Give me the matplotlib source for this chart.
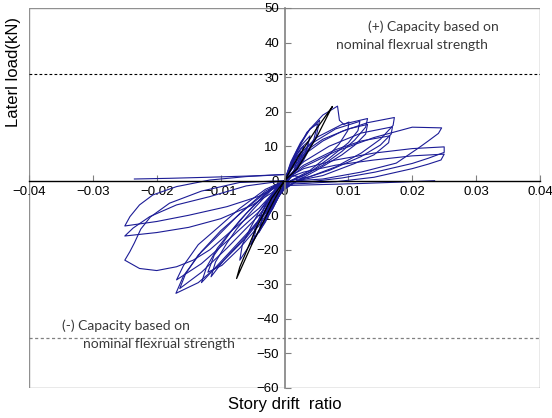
import numpy as np
import matplotlib.pyplot as plt
from matplotlib.patches import Rectangle

# Cyclic test results: (story drift ratio, lateral load kN) per cycle
c01 = [(0, 0), (0.0008, 3.5), (0.002, 6), (0.0014, 2.5), (0.0005, 0.3), (-0.0008, -4),
       (-0.002, -7.5), (-0.0015, -4), (-0.0005, -0.8), (0, 0)]
c02 = [(0, 0), (0.001, 4.5), (0.002, 7.8), (0.003, 10), (0.0025, 6), (0.0015, 2.5), (0.0004, 0),
       (-0.001, -5), (-0.002, -8.5), (-0.003, -11.5), (-0.0025, -7.5), (-0.0015, -3.5), (0, 0)]
c02b = [(0, 0), (0.0008, 3.5), (0.0017, 6.5), (0.0026, 8.5), (0.0021, 5), (0.001, 1.5), (0, -0.5),
        (-0.0009, -4.5), (-0.0018, -8), (-0.0027, -10.5), (-0.0022, -6.5), (-0.001, -2), (0, 0)]
c03 = [(0, 0), (0.001, 5), (0.0025, 10), (0.004, 13), (0.0035, 9), (0.002, 4), (0.0005, 0),
       (-0.0012, -5.5), (-0.0028, -11), (-0.004, -15), (-0.0035, -10.5), (-0.002, -5),
       (-0.0005, -0.8), (0, 0)]
c03b = [(0, 0), (0.0012, 5.5), (0.0026, 9.5), (0.0038, 11.5), (0.0032, 7.5), (0.0018, 3),
        (0.0003, -0.3), (-0.0013, -6), (-0.0028, -10.5), (-0.0038, -13.5), (-0.0032, -9),
        (-0.0018, -4), (0, 0)]
c04 = [(0, 0), (0.0015, 7), (0.0035, 14), (0.0055, 17.5), (0.005, 13), (0.003, 6), (0.001, 1),
       (-0.0015, -6), (-0.0035, -13), (-0.0052, -18.5), (-0.0046, -13.5), (-0.003, -7),
       (-0.001, -1.5), (0, 0)]
c04b = [(0, 0), (0.001, 5.5), (0.0025, 11), (0.004, 15), (0.0052, 16.5), (0.0046, 12),
        (0.003, 6.5), (0.0012, 1.5), (0, -0.5), (-0.0015, -6.5), (-0.003, -12), (-0.0048, -17),
        (-0.0043, -12.5), (-0.0028, -6.5), (-0.001, -1.5), (0, 0)]
c05 = [(0, 0), (0.001, 5), (0.002, 9), (0.004, 15), (0.006, 19), (0.0083, 21.6), (0.0086, 17.5),
       (0.0093, 16.3), (0.0101, 17), (0.0099, 14.5), (0.0085, 10.5), (0.007, 7.5), (0.004, 3),
       (0.001, 0), (-0.001, -4), (-0.002, -8), (-0.0045, -16), (-0.007, -23), (-0.0066, -18.5),
       (-0.0053, -13.5), (-0.004, -9), (-0.0015, -2.5), (0, 0)]
c06 = [(0, 0), (0.001, 4), (0.002, 7), (0.005, 12.5), (0.009, 16.3), (0.013, 18),
       (0.0127, 15.5), (0.011, 11.8), (0.009, 8.5), (0.006, 4.5), (0.003, 1.5), (0.001, 0),
       (-0.002, -7), (-0.004, -11.5), (-0.006, -16), (-0.0095, -23), (-0.0115, -27.8),
       (-0.0108, -23.5), (-0.009, -18), (-0.0075, -14), (-0.005, -8.5), (-0.003, -4.5),
       (-0.0015, -1.5), (0, 0)]
c06b = [(0, 0), (0.0015, 5), (0.004, 10.5), (0.008, 15), (0.0118, 17.2), (0.0115, 14.5),
        (0.01, 11), (0.007, 6.5), (0.004, 2.5), (0.001, 0), (-0.0015, -6), (-0.004, -13),
        (-0.007, -19.5), (-0.0098, -24.5), (-0.012, -26.5), (-0.011, -21.5), (-0.0085, -15),
        (-0.006, -9.5), (-0.003, -4), (0, 0)]
c07 = [(0, 0), (0.001, 3), (0.002, 6), (0.004, 9.5), (0.006, 12), (0.01, 15), (0.013, 16.3),
       (0.0127, 13.5), (0.011, 10.3), (0.009, 7.5), (0.005, 3), (0.002, 0), (-0.001, -3.5),
       (-0.003, -9), (-0.005, -13.5), (-0.007, -17.5), (-0.0105, -24.5), (-0.013, -29.5),
       (-0.0122, -25), (-0.0105, -19.5), (-0.009, -16), (-0.007, -11.5), (-0.005, -7.5),
       (-0.002, -2), (0, 0)]
c08 = [(0, 0), (0.001, 3), (0.003, 7.5), (0.006, 11.5), (0.009, 14.3), (0.013, 16.8),
       (0.0172, 18.3), (0.017, 16), (0.015, 12), (0.012, 8), (0.008, 4), (0.004, 1.2),
       (0.001, 0), (-0.001, -3.5), (-0.003, -9.5), (-0.006, -16.5), (-0.01, -24),
       (-0.0135, -29.5), (-0.017, -32.6), (-0.0158, -27.5), (-0.013, -20.5), (-0.01, -14.5),
       (-0.006, -8), (-0.003, -3.5), (0, 0)]
c09 = [(0, 0), (0.0015, 3), (0.003, 5.5), (0.007, 10), (0.012, 13.8), (0.0169, 15.6),
       (0.0167, 13.5), (0.015, 10.3), (0.012, 7), (0.007, 3), (0.002, 0), (-0.002, -5),
       (-0.004, -10), (-0.009, -19.5), (-0.013, -26.5), (-0.0164, -31.2), (-0.0155, -27),
       (-0.0135, -21.5), (-0.011, -17), (-0.007, -9.5), (-0.003, -3), (0, 0)]
c10 = [(0, 0), (0.0015, 2.5), (0.003, 4.5), (0.008, 9), (0.012, 11.5), (0.0165, 13),
       (0.0163, 11), (0.014, 7.5), (0.011, 5), (0.006, 1.5), (0.002, 0), (-0.002, -4.5),
       (-0.004, -9), (-0.009, -17.5), (-0.013, -24), (-0.0169, -28.7), (-0.0158, -24.5),
       (-0.0135, -18.5), (-0.011, -14.5), (-0.007, -8), (-0.003, -2.5), (0, 0)]
c11 = [(0, 0), (0.0015, 2), (0.003, 4), (0.008, 8.5), (0.014, 12.5), (0.02, 15.5),
       (0.0246, 15.3), (0.0241, 13.7), (0.0225, 11.5), (0.021, 9.5), (0.0175, 5.1),
       (0.012, 2.5), (0.006, 0.5), (0.002, 0), (-0.002, -4), (-0.004, -8), (-0.008, -14),
       (-0.0117, -20), (-0.0143, -23), (-0.0169, -24.9), (-0.02, -26), (-0.0227, -25.4),
       (-0.025, -23), (-0.0242, -20.5), (-0.0235, -18), (-0.0225, -14), (-0.021, -10.5),
       (-0.018, -6.5), (-0.013, -3), (-0.007, -0.5), (0, 0)]
c12 = [(0, 0), (0.0015, 2), (0.003, 3.5), (0.008, 6), (0.014, 8), (0.02, 9.3), (0.025, 9.8),
       (0.025, 8.2), (0.0225, 6.5), (0.02, 5), (0.0142, 2.5), (0.009, 0.8), (0.004, -0.3),
       (0, -0.5), (-0.002, -3.5), (-0.005, -7), (-0.01, -11), (-0.015, -13.5), (-0.02, -15),
       (-0.025, -16), (-0.0237, -13.7), (-0.0211, -10.4), (-0.0169, -7), (-0.0117, -4.6),
       (-0.006, -1.5), (0, 0)]
c13 = [(0, 0), (0.0015, 1.5), (0.003, 2.5), (0.008, 4.5), (0.014, 6), (0.02, 7.2),
       (0.025, 7.7), (0.0245, 6), (0.0225, 4.8), (0.02, 3.5), (0.014, 1), (0.008, -0.3),
       (0.003, -0.8), (0, -1), (-0.002, -2.5), (-0.004, -4.5), (-0.009, -7.5), (-0.015, -10),
       (-0.02, -11.8), (-0.025, -13.1), (-0.0242, -10.4), (-0.0227, -7), (-0.0206, -4.1),
       (-0.0169, -1.7), (-0.0117, 0.2), (-0.006, 1.2), (0, 1.8), (0.003, 1)]
# slip branches along the drift axis
c14 = [(0, 1.8), (-0.005, 1.4), (-0.012, 1), (-0.018, 0.7), (-0.0235, 0.5)]
c15 = [(0, -1.4), (0.006, -1.1), (0.012, -0.8), (0.018, -0.4), (0.0235, 0)]
# first cycle at yield drift
c_black = [(0, 0), (0.002, 6.5), (0.005, 15), (0.0075, 21.5), (0.0072, 20.5), (0.005, 12.5),
           (0.002, 3.5), (0, 0), (-0.002, -7), (-0.005, -18), (-0.0075, -28.3), (-0.007, -25),
           (-0.0045, -14), (-0.002, -5), (0, 0)]

blue_cycles = [c01, c02, c02b, c03, c03b, c04, c04b, c05, c06, c06b, c07, c08, c09, c10,
               c11, c12, c13, c14, c15]

# nominal flexural capacity (kN)
P_pos = 30.9
P_neg = -45.6

xticks = [-0.04, -0.03, -0.02, -0.01, 0, 0.01, 0.02, 0.03, 0.04]
xticklabels = ["\u22120.04", "\u22120.03", "\u22120.02", "\u22120.01", "0", "0.01", "0.02", "0.03", "0.04"]
yticks = [-60, -50, -40, -30, -20, -10, 0, 10, 20, 30, 40, 50]

fig = plt.figure(figsize=(5.52, 4.18), dpi=100)
ax = fig.add_axes([29/552, 1-388/418, 511/552, 380/418])

for cyc in blue_cycles:
    d = np.array(cyc)
    ax.plot(d[:, 0], d[:, 1], color='#1c1c96', lw=0.8)
d = np.array(c_black)
ax.plot(d[:, 0], d[:, 1], color='k', lw=0.9)

ax.axhline(P_pos, color='k', ls=(0, (2.5, 2)), lw=0.8)
ax.axhline(P_neg, color='#808080', ls=(0, (2.5, 2)), lw=0.9)

ax.set_xlim(-0.04, 0.04)
ax.set_ylim(-60, 50)
ax.spines['left'].set_position('zero')
ax.spines['bottom'].set_position('zero')
ax.spines['left'].set_color('#808080')
ax.spines['left'].set_linewidth(1.2)
ax.spines['bottom'].set_color('k')
ax.spines['bottom'].set_linewidth(1.0)
ax.spines['top'].set_visible(False)
ax.spines['right'].set_visible(False)
ax.add_patch(Rectangle((0, 0), 1, 1, transform=ax.transAxes, fill=False,
                       ec='#909090', lw=1.0, zorder=0.5))

ax.set_xticks(xticks)
ax.set_xticklabels(xticklabels)
ax.set_yticks(yticks)
ax.tick_params(direction='in', length=4, color='#808080', labelsize=9.5, pad=4)
for lab in ax.get_xticklabels() + ax.get_yticklabels():
    lab.set_family('Liberation Sans')

fig.text(14/552, 1-72/418, "Laterl load(kN)", rotation=90, ha='center', va='center',
         fontsize=12, family='Liberation Sans')
fig.text(285/552, 1-405/418, "Story drift  ratio", ha='center', va='center',
         fontsize=12, family='Liberation Sans')

ax.text(0.0131, 44.5, "(+) Capacity based on", fontsize=10, family='Lato', color='#3a3a3a', va='center')
ax.text(0.0080, 39.3, "nominal flexrual strength", fontsize=10, family='Lato', color='#3a3a3a', va='center')
ax.text(-0.0348, -42.1, "(-) Capacity based on", fontsize=10, family='Lato', color='#3a3a3a', va='center')
ax.text(-0.0316, -47.3, "nominal flexrual strength", fontsize=10, family='Lato', color='#3a3a3a', va='center')

plt.savefig("out.png", dpi=100)
